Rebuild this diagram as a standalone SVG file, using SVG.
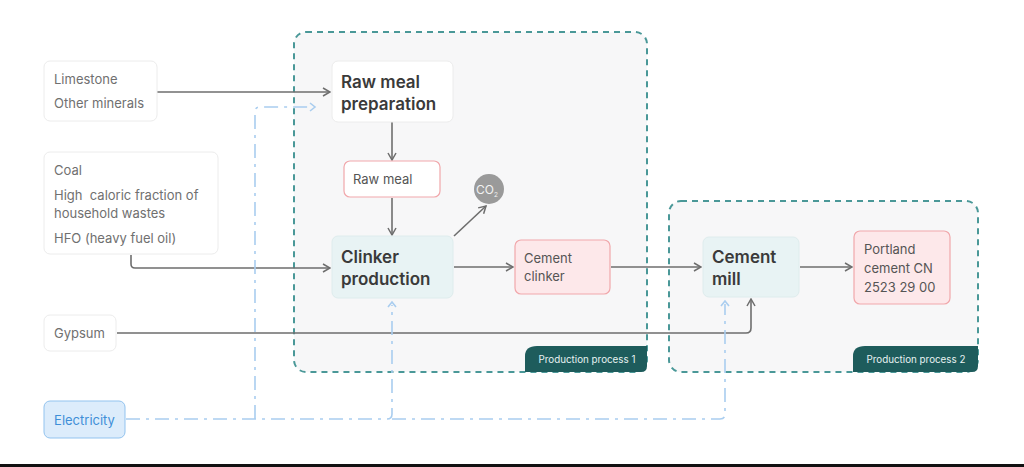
<svg xmlns="http://www.w3.org/2000/svg" width="1024" height="467" viewBox="0 0 1024 467">
<defs>
<style>
.proc{fill:#f7f7f8;stroke:#4a9898;stroke-width:2;stroke-dasharray:6 5}
.tab{fill:#1e5c5c}
.tabt{font-family:Inter,Lato,"Liberation Sans",sans-serif;font-size:9.8px;fill:#e8f2f2}
.in{fill:#fff;stroke:#ececec;stroke-width:1}
.int{font-family:Inter,Lato,"Liberation Sans",sans-serif;font-size:13px;fill:#707070}
.main{fill:#fff;stroke:#ececec}
.blue{fill:#e8f3f4;stroke:#deeced}
.pink{fill:#fde8ea;stroke:#f1a7ab;stroke-width:1.2}
.pinkw{fill:#fff;stroke:#f1a7ab;stroke-width:1.2}
.big{font-family:Inter,Lato,"Liberation Sans",sans-serif;font-size:17px;font-weight:600;fill:#3a3a3a}
.mid{font-family:Inter,Lato,"Liberation Sans",sans-serif;font-size:13px;fill:#555}
.ar{fill:none;stroke:#6e6e6e;stroke-width:1.6;marker-end:url(#ah)}
.el{fill:none;stroke:#a9cdef;stroke-width:1.6;stroke-dasharray:14 6 3 6}
</style>
<marker id="ah" viewBox="0 0 10 10" refX="9" refY="5" markerWidth="10" markerHeight="10" markerUnits="userSpaceOnUse" orient="auto">
<path d="M2 1 L9 5 L2 9" fill="none" stroke="#6e6e6e" stroke-width="1.5"/>
</marker>
<marker id="eh" viewBox="0 0 10 10" refX="5" refY="5" markerWidth="10" markerHeight="10" markerUnits="userSpaceOnUse" orient="auto">
<path d="M3 1 L8 5 L3 9" fill="none" stroke="#a9cdef" stroke-width="1.6"/>
</marker>
</defs>
<rect width="1024" height="467" fill="#fff"/>
<g id="process1">
<rect class="proc" x="294" y="32" width="353" height="340" rx="12"/>
<path class="tab" d="M525 372 L525 356 Q525 346 537 346 L647 346 L647 366 Q647 372 641 372 Z"/>
<text class="tabt" x="587" y="362.5" text-anchor="middle">Production process 1</text>
</g>
<g id="process2">
<rect class="proc" x="669" y="201" width="309" height="171" rx="12"/>
<path class="tab" d="M853 372 L853 356 Q853 346 865 346 L978 346 L978 366 Q978 372 972 372 Z"/>
<text class="tabt" x="916" y="362.5" text-anchor="middle">Production process 2</text>
</g>
<g id="connectors">
<path class="ar" d="M157 92 H330"/>
<path class="ar" d="M392 122 V160"/>
<path class="ar" d="M392 198 V235"/>
<path class="ar" d="M454 236 L486 206"/>
<path class="ar" d="M131 255 V264 Q131 268 135 268 H330"/>
<path class="ar" d="M454 267 H513"/>
<path class="ar" d="M611 267 H701"/>
<path class="ar" d="M800 267 H852"/>
<path class="ar" d="M117 333 H746 Q751 333 751 328 V299"/>
<path class="el" d="M126 419 H387 Q392 419 392 414 V305" marker-end="url(#eh)"/>
<path class="el" d="M255 419 V112 Q255 107 260 107 H312" marker-end="url(#eh)"/>
<path class="el" d="M392 419 H720 Q725 419 725 414 V304" marker-end="url(#eh)"/>
</g>
<g id="limestone">
<rect class="in" x="44" y="61" width="113" height="60" rx="6"/>
<text class="int" x="54" y="84">Limestone</text>
<text class="int" x="54" y="108">Other minerals</text>
</g>
<g id="coal">
<rect class="in" x="44" y="152" width="174" height="102" rx="6"/>
<text class="int" x="54" y="175">Coal</text>
<text class="int" x="54" y="200" xml:space="preserve">High  caloric fraction of</text>
<text class="int" x="54" y="218">household wastes</text>
<text class="int" x="54" y="243">HFO (heavy fuel oil)</text>
</g>
<g id="gypsum">
<rect class="in" x="44" y="315" width="72" height="36" rx="6"/>
<text class="int" x="54" y="338">Gypsum</text>
</g>
<g id="electricity">
<rect x="44" y="401" width="81" height="37" rx="6" fill="#dcecfb" stroke="#92c3ef"/>
<text x="84.5" y="424.5" text-anchor="middle" font-family="Inter,Lato,'Liberation Sans',sans-serif" font-size="13" fill="#3f8fd8">Electricity</text>
</g>
<g id="rawmealprep">
<rect class="main" x="332" y="61" width="121" height="61" rx="6"/>
<text class="big" x="341" y="88">Raw meal</text>
<text class="big" x="341" y="110">preparation</text>
</g>
<g id="rawmeal">
<rect class="pinkw" x="344" y="161" width="96" height="36" rx="6"/>
<text class="mid" x="353" y="184">Raw meal</text>
</g>
<g id="co2">
<circle cx="489" cy="189" r="15" fill="#9a9a9a"/>
<text x="487" y="193.5" text-anchor="middle" font-family="Inter,Lato,'Liberation Sans',sans-serif" font-size="12" fill="#f2f2f2">CO<tspan font-size="6.5" dy="3">2</tspan></text>
</g>
<g id="clinker">
<rect class="blue" x="332" y="236" width="121" height="62" rx="6"/>
<text class="big" x="341" y="263">Clinker</text>
<text class="big" x="341" y="285">production</text>
</g>
<g id="cementclinker">
<rect class="pink" x="515" y="240" width="95" height="54" rx="6"/>
<text class="mid" x="524" y="263">Cement</text>
<text class="mid" x="524" y="281">clinker</text>
</g>
<g id="cementmill">
<rect class="blue" x="703" y="237" width="96" height="60" rx="6"/>
<text class="big" x="712" y="263">Cement</text>
<text class="big" x="712" y="285">mill</text>
</g>
<g id="portland">
<rect class="pink" x="854" y="231" width="96" height="73" rx="6"/>
<text class="mid" x="864" y="254">Portland</text>
<text class="mid" x="864" y="273">cement CN</text>
<text class="mid" x="864" y="292">2523 29 00</text>
</g>
<rect x="0" y="464" width="1024" height="3" fill="#111"/>
</svg>
